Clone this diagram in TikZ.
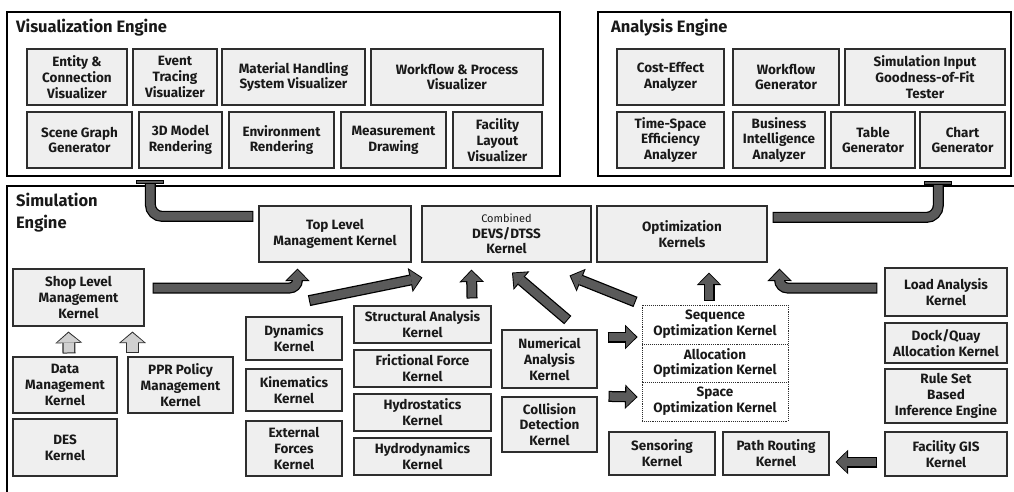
\documentclass[tikz,border=0pt]{standalone}
\usepackage{fontspec}
\setmainfont{Fira Sans}
\usepackage{tikz}
\usetikzlibrary{arrows.meta,calc,shadows}

\definecolor{boxfill}{HTML}{EFEFEF}
\definecolor{boxline}{HTML}{2E2E2E}
\definecolor{pipegray}{HTML}{5A5A5A}
\definecolor{hollowgray}{HTML}{D0D0D0}

\begin{document}
\begin{tikzpicture}[
    x=1pt, y=-1pt,
    every node/.style={font=\fontsize{13.5}{15.8}\selectfont\bfseries, align=center, text=black!90},
    kbox/.style={draw=boxline, line width=1.1pt, fill=boxfill, inner sep=1pt,
        drop shadow={shadow xshift=1.2pt, shadow yshift=-1.2pt, fill=black!45}},
    optbox/.style={draw=boxline, densely dotted, line width=0.9pt, fill=white, inner sep=1pt},
    engine/.style={draw=black, line width=1.4pt, fill=white, inner sep=0pt},
    enginetitle/.style={font=\fontsize{16.5}{22}\selectfont\bfseries, align=left,
        anchor=north west, inner sep=0pt},
    pipe/.style={draw=pipegray, line width=8.5pt, rounded corners=12pt,
        preaction={draw=black, line width=11pt, shorten <=-1pt, shorten >=-1pt}},
    tcap/.style={draw=pipegray, line width=2pt,
        preaction={draw=black, line width=4pt, shorten <=-1pt, shorten >=-1pt}},
    fatarrow/.style={draw=pipegray, line width=8.5pt, rounded corners=8pt,
        -{Triangle[width=20pt,length=10pt,line width=0pt]}, shorten >=1.4pt,
        preaction={draw=black, line width=11pt, shorten >=0pt, shorten <=-1pt,
            -{Triangle[width=24.5pt,length=12.5pt,line width=0pt]}}},
    hollowarrow/.style={draw=hollowgray, line width=10.5pt,
        -{Triangle[width=23pt,length=9.5pt,line width=0pt]}, shorten >=1.4pt,
        preaction={draw=boxline, line width=13pt, shorten >=0pt, shorten <=-1pt,
            -{Triangle[width=27pt,length=11.5pt,line width=0pt]}}}
]
\useasboundingbox (0,0) rectangle (1014,492);

% Visualization engine
\node[engine, minimum width=553pt, minimum height=164pt] (viseng) at (283.5,94) {};
\node[enginetitle] (vistitle) at (16,19) {Visualization Engine};

\node[kbox, minimum width=100pt, minimum height=56pt] (ecv) at (77,77) {Entity \&\\Connection\\Visualizer};
\node[kbox, minimum width=84pt, minimum height=56pt] (etv) at (175,77) {Event\\Tracing\\Visualizer};
\node[kbox, minimum width=143pt, minimum height=56pt] (mhv) at (293.5,77) {Material Handling\\System Visualizer};
\node[kbox, minimum width=172pt, minimum height=56pt] (wpv) at (457,77) {Workflow \& Process\\Visualizer};
\node[kbox, minimum width=105pt, minimum height=56pt] (sgg) at (79.5,140) {Scene Graph\\Generator};
\node[kbox, minimum width=83pt, minimum height=56pt] (mdr) at (180.5,140) {3D Model\\Rendering};
\node[kbox, minimum width=105pt, minimum height=56pt] (evr) at (281.5,140) {Environment\\Rendering};
\node[kbox, minimum width=105pt, minimum height=56pt] (msd) at (393.5,140) {Measurement\\Drawing};
\node[kbox, minimum width=89pt, minimum height=56pt] (flv) at (497.5,140) {Facility\\Layout\\Visualizer};

% Analysis engine
\node[engine, minimum width=413pt, minimum height=164pt] (anaeng) at (804.5,94) {};
\node[enginetitle] (anatitle) at (611,19) {Analysis Engine};

\node[kbox, minimum width=107pt, minimum height=56pt] (cea) at (670.5,77) {Cost-Effect\\Analyzer};
\node[kbox, minimum width=106pt, minimum height=56pt] (wfg) at (786,77) {Workflow\\Generator};
\node[kbox, minimum width=160pt, minimum height=56pt] (sgt) at (925,77) {Simulation Input\\Goodness-of-Fit\\Tester};
\node[kbox, minimum width=107pt, minimum height=56pt] (tse) at (670.5,140) {Time-Space\\Efficiency\\Analyzer};
\node[kbox, minimum width=92pt, minimum height=56pt] (bia) at (779,140) {Business\\Intelligence\\Analyzer};
\node[kbox, minimum width=84pt, minimum height=56pt] (tbg) at (873,140) {Table\\Generator};
\node[kbox, minimum width=85pt, minimum height=56pt] (chg) at (962.5,140) {Chart\\Generator};

% Simulation engine
\draw[black, line width=1.4pt] (1014,186) -- (7,186) -- (7,492);
\node[enginetitle] (simtitle) at (16,193) {Simulation\\Engine};

\node[kbox, minimum width=152pt, minimum height=56pt] (toplvl) at (335,234) {Top Level\\Management Kernel};
\node[kbox, minimum width=169pt, minimum height=56pt] (devs) at (506.5,234)
    {{\mdseries\fontsize{11}{12.5}\selectfont Combined}\\DEVS/DTSS\\Kernel};
\node[kbox, minimum width=170pt, minimum height=56pt] (optk) at (682,234) {Optimization\\Kernels};

\node[kbox, minimum width=131pt, minimum height=57pt] (shop) at (78.5,297.5) {Shop Level\\Management\\Kernel};
\node[kbox, minimum width=104pt, minimum height=56pt] (datam) at (65,385) {Data\\Management\\Kernel};
\node[kbox, minimum width=105pt, minimum height=56pt] (ppr) at (180.5,385) {PPR Policy\\Management\\Kernel};
\node[kbox, minimum width=104pt, minimum height=57pt] (des) at (65,447.5) {DES\\Kernel};

\node[kbox, minimum width=96pt, minimum height=43pt] (dyn) at (294,338.5) {Dynamics\\Kernel};
\node[kbox, minimum width=96pt, minimum height=42pt] (kin) at (294,390) {Kinematics\\Kernel};
\node[kbox, minimum width=96pt, minimum height=55pt] (ext) at (294,448.5) {External\\Forces\\Kernel};

\node[kbox, minimum width=137pt, minimum height=37pt] (struc) at (422.5,324.5) {Structural Analysis\\Kernel};
\node[kbox, minimum width=137pt, minimum height=37pt] (fric) at (422.5,368.5) {Frictional Force\\Kernel};
\node[kbox, minimum width=137pt, minimum height=37pt] (hstat) at (422.5,412.5) {Hydrostatics\\Kernel};
\node[kbox, minimum width=137pt, minimum height=37pt] (hdyn) at (422.5,456.5) {Hydrodynamics\\Kernel};

\node[kbox, minimum width=95pt, minimum height=58pt] (numa) at (549.5,359) {Numerical\\Analysis\\Kernel};
\node[kbox, minimum width=95pt, minimum height=55pt] (coll) at (549.5,424.5) {Collision\\Detection\\Kernel};

\node[optbox, minimum width=146pt, minimum height=39pt] (seqo) at (715,324.5) {Sequence\\Optimization Kernel};
\node[optbox, minimum width=146pt, minimum height=38pt] (allo) at (715,363) {Allocation\\Optimization Kernel};
\node[optbox, minimum width=146pt, minimum height=39pt] (spco) at (715,401.5) {Space\\Optimization Kernel};

\node[kbox, minimum width=106pt, minimum height=43pt] (sens) at (662,453.5) {Sensoring\\Kernel};
\node[kbox, minimum width=106pt, minimum height=43pt] (path) at (776,453.5) {Path Routing\\Kernel};

\node[kbox, minimum width=122pt, minimum height=48pt] (load) at (946,292) {Load Analysis\\Kernel};
\node[kbox, minimum width=122pt, minimum height=40pt] (dock) at (946,343) {Dock/Quay\\Allocation Kernel};
\node[kbox, minimum width=122pt, minimum height=54pt] (rule) at (946,396) {Rule Set\\Based\\Inference Engine};
\node[kbox, minimum width=122pt, minimum height=44pt] (fgis) at (946,454) {Facility GIS\\Kernel};

% connection points
\coordinate (vtap) at ($(viseng.south west)+(144,5)$);
\coordinate (atap) at ($(anaeng.south west)+(341,6)$);
\coordinate (shopout) at ($(shop.east)+(9,-9.5)$);
\coordinate (physout) at ($(dyn.north)+(16,-16)$);
\coordinate (strucout) at ($(struc.north)+(49.5,-8)$);
\coordinate (numaout) at ($(numa.north)+(17.5,-10)$);
\coordinate (numaright) at ($(numa.east)+(11,-22)$);
\coordinate (collright) at ($(coll.north east)+(12,0)$);
\coordinate (seqout) at ($(seqo.north west)+(-7,-3)$);
\coordinate (sequp) at ($(seqo.north)+(-6,-5)$);
\coordinate (loadout) at ($(load.west)+(-8,-4)$);
\coordinate (fgisout) at ($(fgis.west)+(-8,8)$);
\coordinate (dataup) at ($(datam.north)+(4,-4)$);
\coordinate (pprup) at ($(ppr.north west)+(5,-4)$);

% engine links
\draw[pipe] (vtap) |- ($(toplvl.north west)+(-6,11)$);
\draw[pipe] (atap) |- ($(optk.north east)+(6,12)$);
\draw[tcap] ($(vtap)+(-13,0)$) -- ($(vtap)+(13,0)$);
\draw[tcap] ($(atap)+(-13,0)$) -- ($(atap)+(13,0)$);

% kernel arrows
\draw[fatarrow] (shopout) -| ($(toplvl.south west)+(39,6)$);
\draw[fatarrow] (physout) -- ($(devs.south west)+(1,15)$);
\draw[fatarrow] (strucout) -- ($(devs.south west)+(50,7)$);
\draw[fatarrow] (numaout) -- ($(devs.south)+(5.5,10)$);
\draw[fatarrow] (seqout) -- ($(devs.south east)+(-22,13)$);
\draw[fatarrow] (sequp) -- ($(optk.south)+(27,10)$);
\draw[fatarrow] (loadout) -| ($(optk.south east)+(12,6)$);
\draw[fatarrow] (numaright) -- ($(seqo.west)+(-4,12.5)$);
\draw[fatarrow] (collright) -- ($(spco.west)+(-4,-4.5)$);
\draw[fatarrow] (fgisout) -- ($(path.east)+(6,8.5)$);

\draw[hollowarrow] (dataup) -- ($(shop.south west)+(56,5)$);
\draw[hollowarrow] (pprup) -- ($(shop.south west)+(120,5)$);

\end{tikzpicture}
\end{document}
